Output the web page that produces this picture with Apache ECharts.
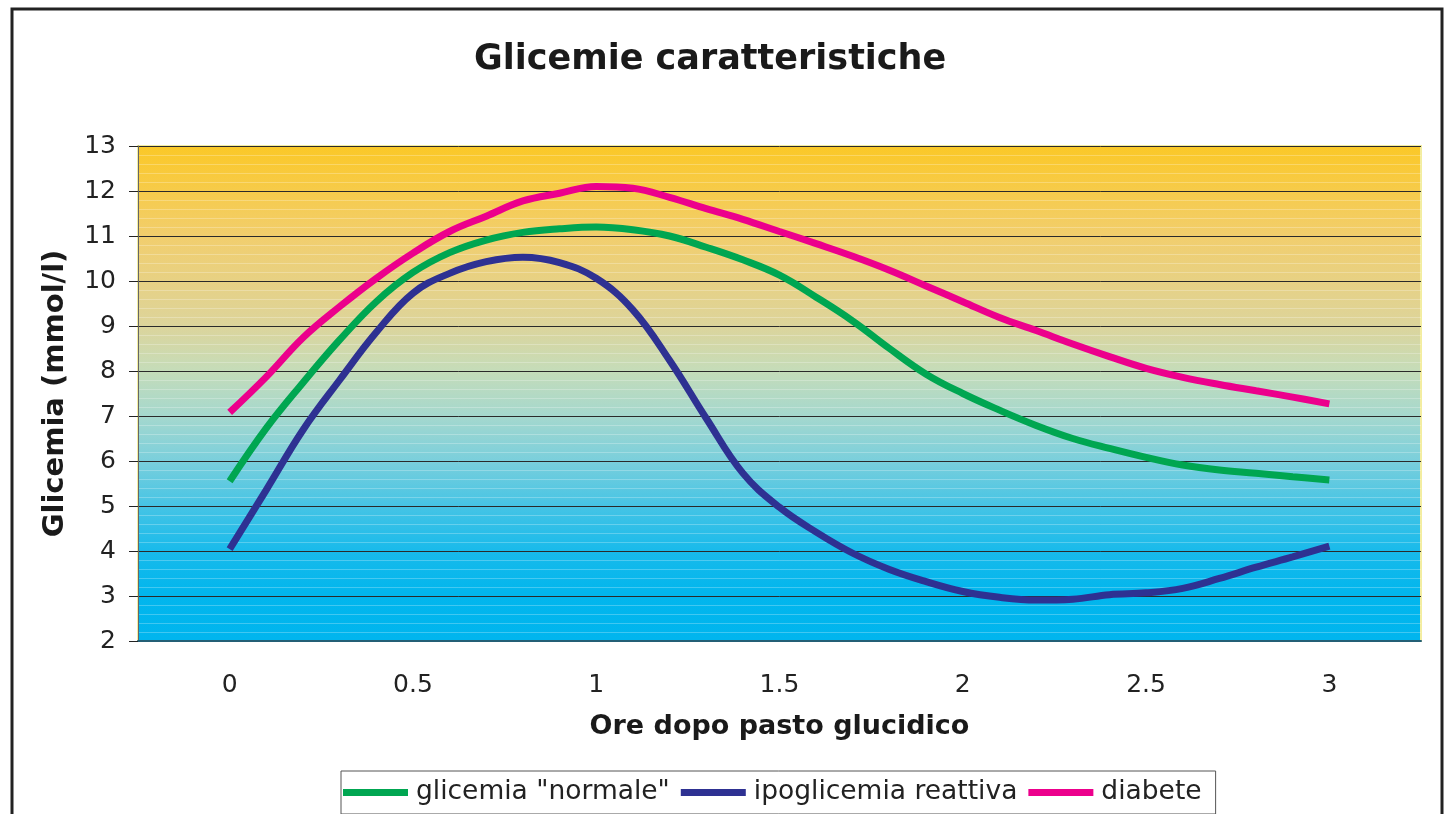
<!DOCTYPE html>
<html>
<head>
<meta charset="utf-8">
<script src="https://cdn.jsdelivr.net/npm/echarts@6/dist/echarts.min.js"></script>
<style>
  html, body { margin: 0; padding: 0; background: #fff; }
  #chart { width: 1454px; height: 814px; }
</style>
</head>
<body>
<div id="chart"></div>
<script>
// ore dopo il pasto (campioni)
var hours = [0, 0.1, 0.2, 0.3, 0.4, 0.5, 0.6, 0.7, 0.8, 0.9, 1.0,
             1.1, 1.2, 1.3, 1.4, 1.5, 1.6, 1.7, 1.8, 1.9, 2.0,
             2.1, 2.2, 2.3, 2.4, 2.5, 2.6, 2.7, 2.8, 2.9, 3.0];

var glicemiaNormale = [5.55, 6.73, 7.74, 8.69, 9.54, 10.19, 10.63, 10.91, 11.08, 11.16, 11.2,
                       11.14, 11.0, 10.75, 10.47, 10.13, 9.64, 9.11, 8.5, 7.93, 7.5,
                       7.13, 6.79, 6.5, 6.28, 6.08, 5.91, 5.8, 5.73, 5.65, 5.58];

var ipoglicemiaReattiva = [4.04, 5.36, 6.69, 7.8, 8.86, 9.73, 10.17, 10.43, 10.53, 10.41, 10.06,
                           9.36, 8.24, 6.95, 5.73, 4.97, 4.42, 3.95, 3.59, 3.32, 3.1,
                           2.97, 2.91, 2.93, 3.03, 3.07, 3.17, 3.39, 3.64, 3.87, 4.11];

var diabete = [7.08, 7.87, 8.74, 9.43, 10.06, 10.62, 11.1, 11.44, 11.78, 11.95, 12.1,
               12.06, 11.86, 11.61, 11.37, 11.1, 10.83, 10.55, 10.24, 9.89, 9.54,
               9.19, 8.9, 8.6, 8.32, 8.06, 7.86, 7.7, 7.56, 7.42, 7.27];

var xTickLabels = ['0', '0.5', '1', '1.5', '2', '2.5', '3'];

var FONT = 'DejaVu Sans';

function toPairs(values) {
    return hours.map(function (h, i) { return [h, values[i]]; });
}

var chart = echarts.init(document.getElementById('chart'));

var option = {
    backgroundColor: '#fff',
    animation: false,
    textStyle: { fontFamily: FONT },
    title: {
        text: 'Glicemie caratteristiche',
        left: 474,
        top: 42,
        padding: 0,
        textStyle: { fontFamily: FONT, fontSize: 35, fontWeight: 'bold', color: '#1a1a1a' }
    },
    legend: {
        left: 341,
        top: 771,
        padding: [8, 14, 8, 2],
        itemGap: 11,
        itemWidth: 65,
        itemHeight: 7,
        icon: 'rect',
        borderColor: '#555',
        borderWidth: 1,
        textStyle: { fontFamily: FONT, fontSize: 26.5, color: '#222', padding: [0, 0, 0, 3] },
        data: ['glicemia "normale"', 'ipoglicemia reattiva', 'diabete']
    },
    grid: {
        left: 138,
        right: 33,
        top: 146,
        bottom: 173,
        show: true,
        borderColor: '#f3eda0',
        borderWidth: 2,
        backgroundColor: {
            type: 'linear', x: 0, y: 0, x2: 0, y2: 1,
            colorStops: [
                { offset: 0, color: '#fbc826' },
                { offset: 0.18, color: '#f2ce6c' },
                { offset: 0.36, color: '#ddd49a' },
                { offset: 0.45, color: '#c6dcb8' },
                { offset: 0.545, color: '#a5d8ce' },
                { offset: 0.636, color: '#7acfdc' },
                { offset: 0.727, color: '#45c4e5' },
                { offset: 0.818, color: '#18baeb' },
                { offset: 0.9, color: '#02b6ed' },
                { offset: 1, color: '#00b5ee' }
            ]
        }
    },
    xAxis: [
        {
            type: 'category',
            data: xTickLabels,
            boundaryGap: true,
            name: 'Ore dopo pasto glucidico',
            nameLocation: 'middle',
            nameGap: 72,
            nameTextStyle: { fontFamily: FONT, fontSize: 27, fontWeight: 'bold', color: '#1a1a1a' },
            axisLine: { lineStyle: { color: '#245f75', width: 2 } },
            axisTick: { length: 9, lineStyle: { color: '#222' } },
            axisLabel: { margin: 32, fontFamily: FONT, fontSize: 25, color: '#222' },
            splitLine: { show: false }
        },
        {
            type: 'value',
            min: -0.25,
            max: 3.25,
            show: false
        }
    ],
    yAxis: {
        type: 'value',
        min: 2,
        max: 13,
        interval: 1,
        name: 'Glicemia (mmol/l)',
        nameLocation: 'middle',
        nameGap: 68,
        nameTextStyle: { fontFamily: FONT, fontSize: 29, fontWeight: 'bold', color: '#1a1a1a' },
        axisLine: { show: true, onZero: false, lineStyle: { color: '#666', width: 1 } },
        axisTick: { show: true, length: 9, lineStyle: { color: '#222' } },
        axisLabel: { margin: 22, fontFamily: FONT, fontSize: 25, color: '#222' },
        splitLine: { lineStyle: { color: '#2a2a2a', width: 1 } },
        minorTick: { show: false, splitNumber: 5 },
        minorSplitLine: { show: true, lineStyle: { color: 'rgba(255,255,255,0.25)', width: 1 } }
    },
    series: [
        {
            name: 'glicemia "normale"',
            type: 'line',
            xAxisIndex: 1,
            data: toPairs(glicemiaNormale),
            smooth: 0.4,
            showSymbol: false,
            color: '#00a651',
            lineStyle: { width: 7, color: '#00a651' }
        },
        {
            name: 'ipoglicemia reattiva',
            type: 'line',
            xAxisIndex: 1,
            data: toPairs(ipoglicemiaReattiva),
            smooth: 0.4,
            showSymbol: false,
            color: '#2e3192',
            lineStyle: { width: 7, color: '#2e3192' }
        },
        {
            name: 'diabete',
            type: 'line',
            xAxisIndex: 1,
            data: toPairs(diabete),
            smooth: 0.4,
            showSymbol: false,
            color: '#ec008c',
            lineStyle: { width: 7, color: '#ec008c' }
        }
    ],
    graphic: [
        {
            type: 'rect',
            silent: true,
            shape: { x: 12, y: 9, width: 1430, height: 830 },
            style: { fill: null, stroke: '#222', lineWidth: 3 }
        }
    ]
};

chart.setOption(option);
</script>
</body>
</html>
